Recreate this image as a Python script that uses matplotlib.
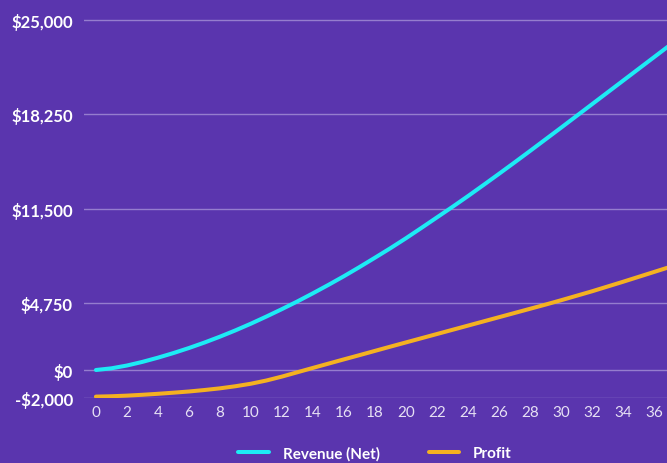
import matplotlib
matplotlib.use("Agg")
import matplotlib.pyplot as plt
from matplotlib.lines import Line2D

months = list(range(0, 39))
revenue_net = [0, 120, 320, 580, 880, 1210, 1570, 1960, 2380, 2830,
               3310, 3820, 4350, 4900, 5480, 6080, 6700, 7350, 8020, 8700,
               9410, 10150, 10900, 11650, 12420, 13210, 14010, 14820, 15640, 16470,
               17300, 18140, 18980, 19820, 20660, 21500, 22340, 23180, 24020]
profit = [-1900, -1875, -1830, -1770, -1700, -1620, -1535, -1430, -1310, -1160,
          -980, -750, -470, -160, 150, 455, 760, 1060, 1365, 1670,
          1970, 2270, 2570, 2870, 3170, 3470, 3770, 4070, 4370, 4670,
          4980, 5300, 5620, 5960, 6300, 6650, 7000, 7350, 7700]
y_ticks = [-2000, 0, 4750, 11500, 18250, 25000]
y_tick_labels = ["-$2,000", "$0", "$4,750", "$11,500", "$18,250", "$25,000"]
x_ticks = list(range(0, 37, 2))

BG = "#5A35AE"
CYAN = "#1DEBF5"
ORANGE = "#F4B121"
GRID = "#9C86D2"

plt.rcParams['font.family'] = ['Lato', 'DejaVu Sans']

fig = plt.figure(figsize=(6.67, 4.64), dpi=100, facecolor=BG)
ax = fig.add_axes([84 / 667, 1 - 399 / 464, (667 - 84) / 667, 399 / 464])
ax.set_facecolor(BG)

ax.plot(months, revenue_net, color=CYAN, lw=2.9, solid_capstyle='round', zorder=3)
ax.plot(months, profit, color=ORANGE, lw=2.9, solid_capstyle='round', zorder=3)

ax.set_xlim(-0.77, 36.84)
ax.set_ylim(-2000, 26497)
ax.set_yticks(y_ticks)
ax.set_yticklabels(y_tick_labels)
ax.set_xticks(x_ticks)
ax.set_xticklabels([str(v) for v in x_ticks])

for s in ax.spines.values():
    s.set_visible(False)
ax.grid(axis='y', color=GRID, lw=1.0, alpha=0.9, zorder=1)
ax.grid(axis='x', visible=False)
ax.tick_params(axis='both', length=0)
ax.tick_params(axis='y', pad=8, labelsize=12, labelcolor='white')
ax.tick_params(axis='x', pad=5, labelsize=11, labelcolor='#E6E0F4')
for lab in ax.get_yticklabels():
    lab.set_fontweight('bold')

handles = [Line2D([0], [0], color=CYAN, lw=2.9, solid_capstyle='round'),
           Line2D([0], [0], color=ORANGE, lw=2.9, solid_capstyle='round')]
leg = fig.legend(handles, ["Revenue (Net)", "Profit"], loc='lower center',
                 bbox_to_anchor=(375 / 667, -0.024), ncol=2, frameon=False,
                 handlelength=2.0, columnspacing=3.2, handletextpad=0.9,
                 prop={'weight': 'bold', 'size': 11})
for t in leg.get_texts():
    t.set_color('white')

fig.savefig("out.png", dpi=100, facecolor=BG)
